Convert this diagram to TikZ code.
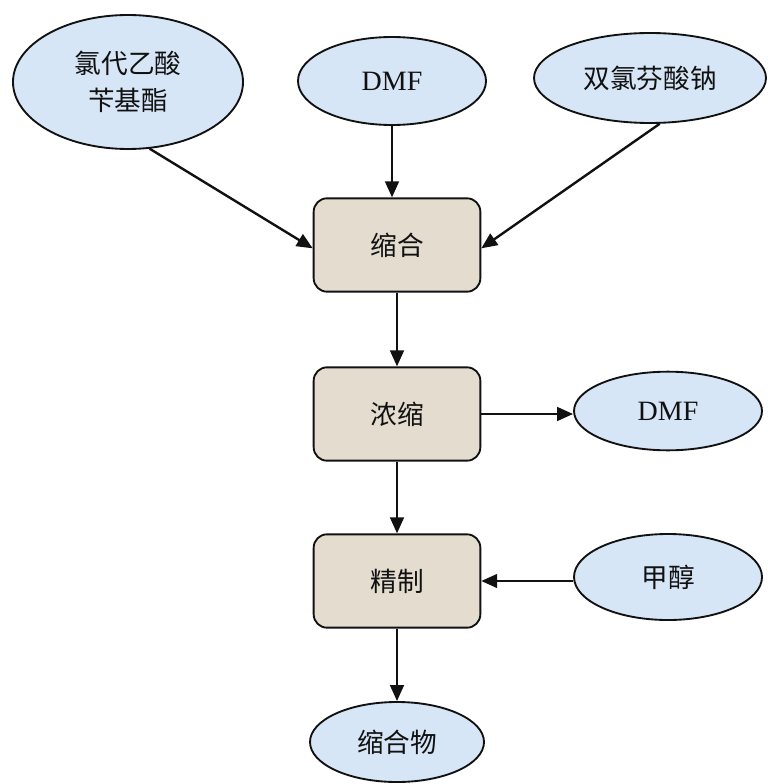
\documentclass[tikz,border=0pt]{standalone}
\usepackage{fontspec}
\setmainfont{Liberation Serif}
\newfontfamily\cjk{Noto Sans CJK SC}
\usetikzlibrary{arrows.meta,shapes.geometric}
\definecolor{feedfill}{HTML}{D7E6F6}
\definecolor{stepfill}{HTML}{E3DCCF}
\definecolor{ink}{HTML}{111111}
\tikzset{
  >={Triangle[length=4.2mm,width=3.6mm]},
  feed/.style={ellipse, draw=ink, fill=feedfill, line width=1.4pt, inner sep=0pt,
    align=center, text=ink, font=\fontsize{20}{27.75}\selectfont\cjk},
  latin/.style={font=\fontsize{21}{25}\selectfont},
  stepbox/.style={rectangle, rounded corners=10pt, draw=ink, fill=stepfill,
    line width=1.4pt, minimum width=125pt, minimum height=70pt, text=ink,
    font=\fontsize{20}{24}\selectfont\cjk},
  flow/.style={->, draw=ink, line width=1.8pt},
}
\begin{document}
\begin{tikzpicture}[x=0.75pt, y=-0.75pt]
  \useasboundingbox (0,0) rectangle (767,784);
  % raw materials
  \node[feed, minimum width=172.5pt, minimum height=100.5pt] (acid) at (128,82) {氯代乙酸\\苄基酯};
  \node[feed, latin, minimum width=141pt, minimum height=66pt] (dmfin) at (392,81) {DMF};
  \node[feed, minimum width=174pt, minimum height=67.5pt] (salt) at (650,78) {双氯芬酸钠};
  % process steps
  \node[stepbox] (cond) at (397,245) {缩合};
  \node[stepbox] (conc) at (397,414) {浓缩};
  \node[stepbox] (refine) at (397,581) {精制};
  % side streams and product
  \node[feed, latin, minimum width=141pt, minimum height=59pt] (dmfout) at (668,411) {DMF};
  \node[feed, minimum width=141pt, minimum height=64.5pt] (meoh) at (668,577) {甲醇};
  \node[feed, minimum width=130.5pt, minimum height=60pt] (prod) at (397,742) {缩合物};
  % flows
  \draw[flow] (acid.-72) -- ([yshift=-2.5pt]cond.west);
  \draw[flow] (dmfin.south) -- (dmfin.south |- cond.north);
  \draw[flow] (salt.-78) -- ([yshift=-2.5pt]cond.east);
  \draw[flow] (cond) -- (conc);
  \draw[flow] (conc.east) -- (conc.east -| dmfout.west);
  \draw[flow] (conc) -- (refine);
  \draw[flow] (refine.east -| meoh.west) -- (refine.east);
  \draw[flow] (refine) -- (prod);
\end{tikzpicture}
\end{document}
